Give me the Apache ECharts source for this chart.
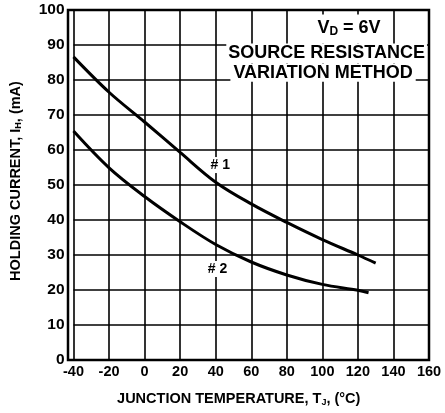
<!DOCTYPE html>
<html>
<head>
<meta charset="utf-8">
<script src="https://cdn.jsdelivr.net/npm/echarts@6/dist/echarts.min.js"></script>
<style>
html,body{margin:0;padding:0;background:#fff;}
#chart{width:445px;height:413px;}
</style>
</head>
<body>
<div id="chart"></div>
<script>
// 数据
var xTicks = [-40, -20, 0, 20, 40, 60, 80, 100, 120, 140, 160];
var yTicks = [0, 10, 20, 30, 40, 50, 60, 70, 80, 90, 100];
var curve1Temp = [-40, -20, 0, 20, 40, 60, 80, 100, 120, 130];
var curve1Ih = [86.6, 76.5, 68, 59.3, 50.8, 44.6, 39.3, 34.4, 30, 27.7];
var curve2Temp = [-40, -20, 0, 20, 40, 60, 80, 100, 120, 126];
var curve2Ih = [65.4, 54.9, 46.7, 39.5, 33, 28, 24.3, 21.6, 19.9, 19.2];

function pairs(xs, ys){
    return xs.map(function(x, i){ return [x, ys[i]]; });
}

var font = 'Liberation Sans, Arial, sans-serif';
var chart = echarts.init(document.getElementById('chart'));

function note(coord, text, size, pad){
    return {
        coord: coord,
        symbol: 'circle', symbolSize: 1,
        itemStyle: { color: 'rgba(0,0,0,0)' },
        label: {
            show: true, position: 'inside', formatter: text,
            color: '#000', fontFamily: font, fontWeight: 'bold', fontSize: size,
            backgroundColor: '#fff', padding: pad
        }
    };
}

var option = {
    animation: false,
    grid: { left: 68, right: 16, top: 10, bottom: 53 },
    xAxis: {
        type: 'value',
        min: -40, max: 160, interval: 20,
        axisLine: { show: false },
        axisTick: { show: false },
        splitLine: { show: true, lineStyle: { color: '#000', width: 1.6 } },
        axisLabel: {
            color: '#000', fontFamily: font, fontWeight: 'bold', fontSize: 14.5, margin: 4,
            formatter: function(v){ return xTicks.indexOf(v) >= 0 ? String(v) : ''; }
        },
        name: '{a|JUNCTION TEMPERATURE, T}{s|J}{a|, (°C)}',
        nameLocation: 'middle',
        nameGap: 31,
        nameTextStyle: {
            padding: [0, 25, 0, 0],
            rich: {
                a: { color: '#000', fontFamily: font, fontWeight: 'bold', fontSize: 14.5 },
                s: { color: '#000', fontFamily: font, fontWeight: 'bold', fontSize: 9, padding: [7, 0, 0, 0] }
            }
        }
    },
    yAxis: {
        type: 'value',
        min: 0, max: 100, interval: 10,
        axisLine: { show: false },
        axisTick: { show: false },
        splitLine: { show: true, lineStyle: { color: '#000', width: 1.6 } },
        axisLabel: {
            color: '#000', fontFamily: font, fontWeight: 'bold', fontSize: 15.5, margin: 9,
            formatter: function(v){ return yTicks.indexOf(v) >= 0 ? String(v) : ''; }
        },
        name: '{a|HOLDING CURRENT, I}{s|H}{a|, (mA)}',
        nameLocation: 'middle',
        nameRotate: 90,
        nameGap: 50,
        nameTextStyle: {
            padding: [0, 0, 0, 8],
            rich: {
                a: { color: '#000', fontFamily: font, fontWeight: 'bold', fontSize: 14.5 },
                s: { color: '#000', fontFamily: font, fontWeight: 'bold', fontSize: 9, padding: [7, 0, 0, 0] }
            }
        }
    },
    graphic: [
        {
            type: 'rect', z: 10,
            shape: { x: 68, y: 10, width: 361, height: 350 },
            style: { fill: 'none', stroke: '#000', lineWidth: 2.5 }
        }
    ],
    series: [
        {
            name: '#1',
            type: 'line',
            smooth: 0.35,
            symbol: 'none',
            data: pairs(curve1Temp, curve1Ih),
            lineStyle: { color: '#000', width: 3 },
            markPoint: {
                data: [
                    note([42.6, 55.7], '# 1', 14, [1, 2]),
                    note([41, 26], '# 2', 14, [1, 2]),
                    {
                        coord: [115, 94.6],
                        symbol: 'circle', symbolSize: 1,
                        itemStyle: { color: 'rgba(0,0,0,0)' },
                        label: {
                            show: true, position: 'inside',
                            formatter: '{a|V}{s|D}{a| = 6V}',
                            backgroundColor: '#fff', padding: [4, 8, 6, 8],
                            rich: {
                                a: { color: '#000', fontFamily: font, fontWeight: 'bold', fontSize: 18 },
                                s: { color: '#000', fontFamily: font, fontWeight: 'bold', fontSize: 12, padding: [7, 0, 0, 0] }
                            }
                        }
                    },
                    note([102.4, 87.6], 'SOURCE RESISTANCE', 18, [1, 2]),
                    note([100.4, 82.1], 'VARIATION METHOD', 18, [0, 3])
                ]
            }
        },
        {
            name: '#2',
            type: 'line',
            smooth: 0.35,
            symbol: 'none',
            data: pairs(curve2Temp, curve2Ih),
            lineStyle: { color: '#000', width: 3 }
        }
    ]
};
chart.setOption(option);
</script>
</body>
</html>
